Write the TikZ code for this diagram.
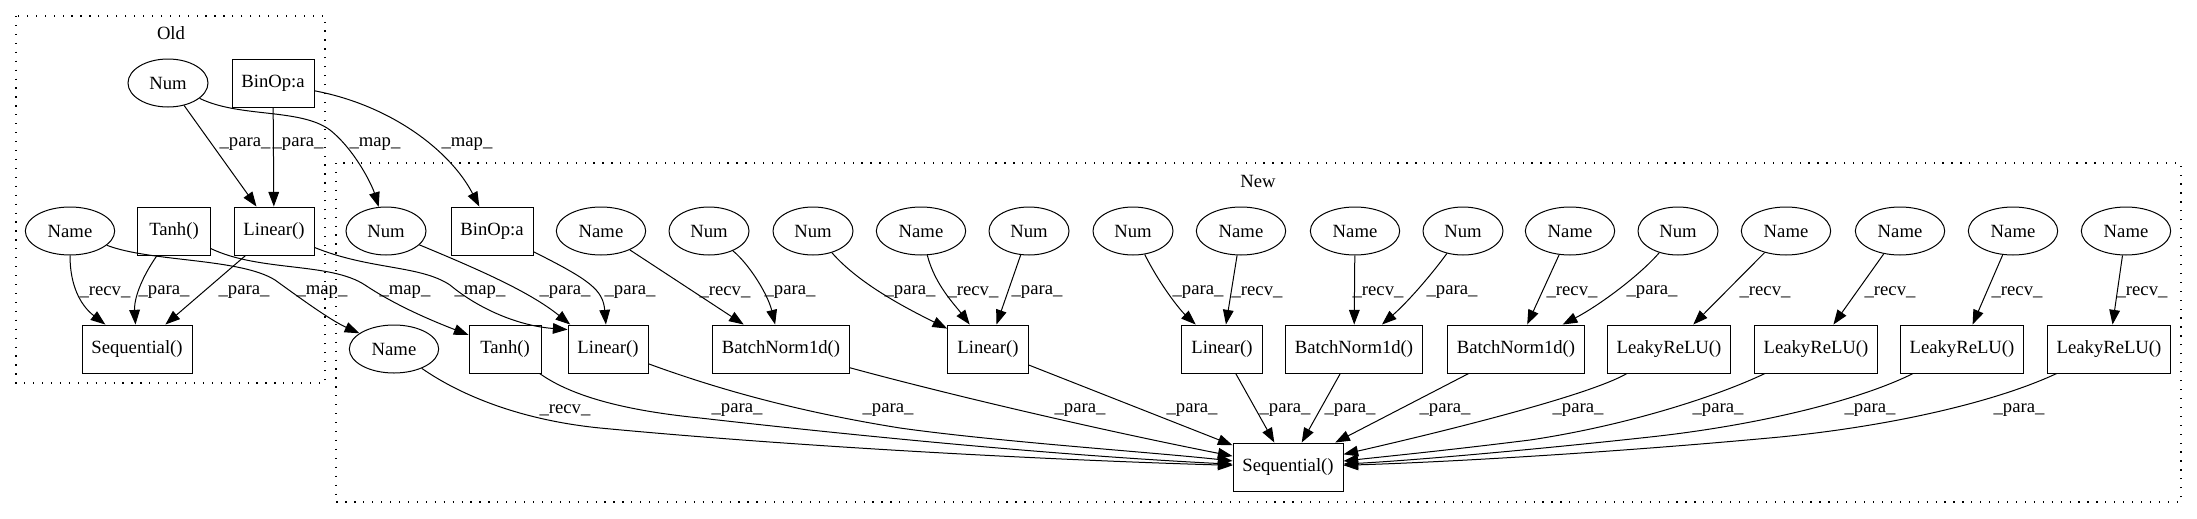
\documentclass[tikz,border=0pt]{standalone}
\usepackage{fontspec}
\setmainfont{Liberation Serif}
\usetikzlibrary{shapes.geometric,arrows.meta}
\begin{document}
\begin{tikzpicture}[x=0.75pt,y=-0.75pt,
  every node/.style={font=\fontsize{14}{16}\selectfont},
  ell/.style={draw,ellipse,line width=0.75pt,minimum height=36pt,inner sep=0pt},
  nm/.style={ell,minimum width=67pt},
  nu/.style={ell,minimum width=60pt},
  rbox/.style={draw,rectangle,line width=0.7pt,minimum height=36pt,inner sep=0pt},
  lbl/.style={inner sep=0pt},
  conn/.style={line width=0.75pt,-{Triangle[length=11pt,width=8pt]}},
  cluster/.style={line width=0.9pt,dash pattern=on 0.9pt off 5.8pt}
]
\useasboundingbox (0,0) rectangle (2197,518);
% clusters
\draw[cluster] (16,16) rectangle (325,383);
\node (oldlbl) at (171,33) {Old};
\draw[cluster] (336,163) rectangle (2181,502);
\node (newlbl) at (1258,181) {New};
% old nodes
\node[nu] (oNum) at (168,83) {Num};
\node[rbox,minimum width=61.5pt] (oBin) at (273,83) {BinOp:a};
\node[nm] (oName) at (70,231) {Name};
\node[rbox,minimum width=54.75pt] (oTanh) at (174,231) {Tanh()};
\node[rbox,minimum width=60pt] (oLin) at (274,231) {Linear()};
\node[rbox,minimum width=82.5pt] (oSeq) at (137,349) {Sequential()};
% new nodes
\node[nu] (nNum) at (386,231) {Num};
\node[rbox,minimum width=61.5pt] (nBin) at (492,231) {BinOp:a};
\node[nm] (nName) at (394,349) {Name};
\node[rbox,minimum width=54pt] (nTanh) at (505,349) {Tanh()};
\node[rbox,minimum width=60pt] (nLinA) at (608,349) {Linear()};
\node[nm] (tA) at (601,231) {Name};
\node[nu] (tB) at (709,231) {Num};
\node[rbox,minimum width=102.5pt] (nBNA) at (781,349) {BatchNorm1d()};
\node[nu] (tC) at (813,231) {Num};
\node[nm] (tD) at (921,231) {Name};
\node[rbox,minimum width=60.5pt] (nLinB) at (988,349) {Linear()};
\node[nu] (tE) at (1029,231) {Num};
\node[nu] (tF) at (1133,231) {Num};
\node[nm] (tG) at (1241,231) {Name};
\node[rbox,minimum width=60.5pt] (nLinC) at (1222,349) {Linear()};
\node[nm] (tH) at (1355,231) {Name};
\node[nu] (tI) at (1463,231) {Num};
\node[rbox,minimum width=102.5pt] (nBNB) at (1354,349) {BatchNorm1d()};
\node[nm] (tJ) at (1570,231) {Name};
\node[nu] (tK) at (1678,231) {Num};
\node[rbox,minimum width=102.5pt] (nBNC) at (1516,349) {BatchNorm1d()};
\node[nm] (tL) at (1786,231) {Name};
\node[nm] (tM) at (1900,231) {Name};
\node[nm] (tN) at (2013,231) {Name};
\node[nm] (tO) at (2126,231) {Name};
\node[rbox,minimum width=92pt] (nLRA) at (1669,349) {LeakyReLU()};
\node[rbox,minimum width=92pt] (nLRB) at (1816,349) {LeakyReLU()};
\node[rbox,minimum width=92pt] (nLRC) at (1962,349) {LeakyReLU()};
\node[rbox,minimum width=92pt] (nLRD) at (2109,349) {LeakyReLU()};
\node[rbox,minimum width=82.5pt] (nSeq) at (1288,467) {Sequential()};
% old edges
\draw[conn] (oNum) -- (oLin);
\node[lbl] at (245,144) {\_para\_};
\draw[conn] (oBin) -- (oLin);
\node[lbl] at (298,144) {\_para\_};
\draw[conn] (oName) .. controls (70,285) and (80,305) .. (oSeq);
\node[lbl] at (105,292) {\_recv\_};
\draw[conn] (oTanh) .. controls (140,280) and (134,300) .. (oSeq);
\node[lbl] at (164,292) {\_para\_};
\draw[conn] (oLin) -- (oSeq);
\node[lbl] at (244,292) {\_para\_};
% map edges
\draw[conn] (oNum) .. controls (240,118) and (300,108) .. (330,130) .. controls (355,150) and (372,185) .. (nNum);
\node[lbl] at (375,144) {\_map\_};
\draw[conn] (oBin) .. controls (390,105) and (450,150) .. (nBin);
\node[lbl] at (467,144) {\_map\_};
\draw[conn] (oName) .. controls (150,262) and (240,258) .. (275,280) .. controls (300,298) and (330,320) .. (nName);
\node[lbl] at (322,292) {\_map\_};
\draw[conn] (oTanh) .. controls (260,272) and (330,262) .. (365,285) .. controls (395,305) and (430,320) .. (nTanh);
\node[lbl] at (405,292) {\_map\_};
\draw[conn] (oLin) .. controls (370,270) and (420,265) .. (450,285) .. controls (480,310) and (520,326) .. ([yshift=-3.75pt]nLinA.north west);
\node[lbl] at (480,292) {\_map\_};
% new top edges
\draw[conn] (nNum) .. controls (480,270) and (530,292) .. ([xshift=2pt]nLinA.north west);
\node[lbl] at (565,292) {\_para\_};
\draw[conn] (nBin) .. controls (590,280) and (603,290) .. (nLinA);
\node[lbl] at (630,292) {\_para\_};
\draw[conn] (tA) -- (nBNA);
\node[lbl] at (725,292) {\_recv\_};
\draw[conn] (tB) .. controls (750,265) and (768,295) .. (nBNA);
\node[lbl] at (790,292) {\_para\_};
\draw[conn] (tC) .. controls (860,285) and (910,310) .. (nLinB);
\node[lbl] at (910,292) {\_para\_};
\draw[conn] (tD) .. controls (935,285) and (955,305) .. (nLinB);
\node[lbl] at (973,292) {\_recv\_};
\draw[conn] (tE) -- (nLinB);
\node[lbl] at (1037,292) {\_para\_};
\draw[conn] (tF) .. controls (1160,285) and (1180,310) .. (nLinC);
\node[lbl] at (1198,292) {\_para\_};
\draw[conn] (tG) -- (nLinC);
\node[lbl] at (1257,292) {\_recv\_};
\draw[conn] (tH) -- (nBNB);
\node[lbl] at (1378,292) {\_recv\_};
\draw[conn] (tI) .. controls (1435,270) and (1410,300) .. (nBNB);
\node[lbl] at (1452,292) {\_para\_};
\draw[conn] (tJ) -- (nBNC);
\node[lbl] at (1572,292) {\_recv\_};
\draw[conn] (tK) .. controls (1640,275) and (1600,305) .. (nBNC);
\node[lbl] at (1652,292) {\_para\_};
\draw[conn] (tL) -- (nLRA);
\node[lbl] at (1765,292) {\_recv\_};
\draw[conn] (tM) -- (nLRB);
\node[lbl] at (1890,292) {\_recv\_};
\draw[conn] (tN) -- (nLRC);
\node[lbl] at (2017,292) {\_recv\_};
\draw[conn] (tO) -- (nLRD);
\node[lbl] at (2142,292) {\_recv\_};
% into new Sequential
\draw[conn] (nName) .. controls (460,395) and (520,420) .. (600,428) .. controls (800,447) and (1050,460) .. (nSeq);
\node[lbl] at (565,410) {\_recv\_};
\draw[conn] (nTanh) .. controls (570,395) and (620,410) .. (700,418) .. controls (850,435) and (1050,455) .. (nSeq);
\node[lbl] at (737,410) {\_para\_};
\draw[conn] (nLinA) .. controls (720,390) and (800,412) .. (900,428) .. controls (1000,442) and (1150,452) .. (nSeq);
\node[lbl] at (888,410) {\_para\_};
\draw[conn] (nBNA) .. controls (950,395) and (1100,430) .. (nSeq);
\node[lbl] at (1080,410) {\_para\_};
\draw[conn] (nLinB) -- (nSeq);
\node[lbl] at (1192,410) {\_para\_};
\draw[conn] (nLinC) -- (nSeq);
\node[lbl] at (1285,410) {\_para\_};
\draw[conn] (nBNB) -- (nSeq);
\node[lbl] at (1350,410) {\_para\_};
\draw[conn] (nBNC) -- (nSeq);
\node[lbl] at (1445,410) {\_para\_};
\draw[conn] (nLRA) .. controls (1590,395) and (1450,430) .. (nSeq);
\node[lbl] at (1578,410) {\_para\_};
\draw[conn] (nLRB) .. controls (1720,395) and (1630,425) .. (1530,440) .. controls (1450,450) and (1390,456) .. (nSeq);
\node[lbl] at (1718,410) {\_para\_};
\draw[conn] (nLRC) .. controls (1860,400) and (1760,425) .. (1650,437) .. controls (1550,448) and (1420,460) .. (nSeq);
\node[lbl] at (1870,410) {\_para\_};
\draw[conn] (nLRD) .. controls (2000,400) and (1900,425) .. (1780,437) .. controls (1620,452) and (1450,462) .. (nSeq);
\node[lbl] at (2019,410) {\_para\_};
\end{tikzpicture}
\end{document}
